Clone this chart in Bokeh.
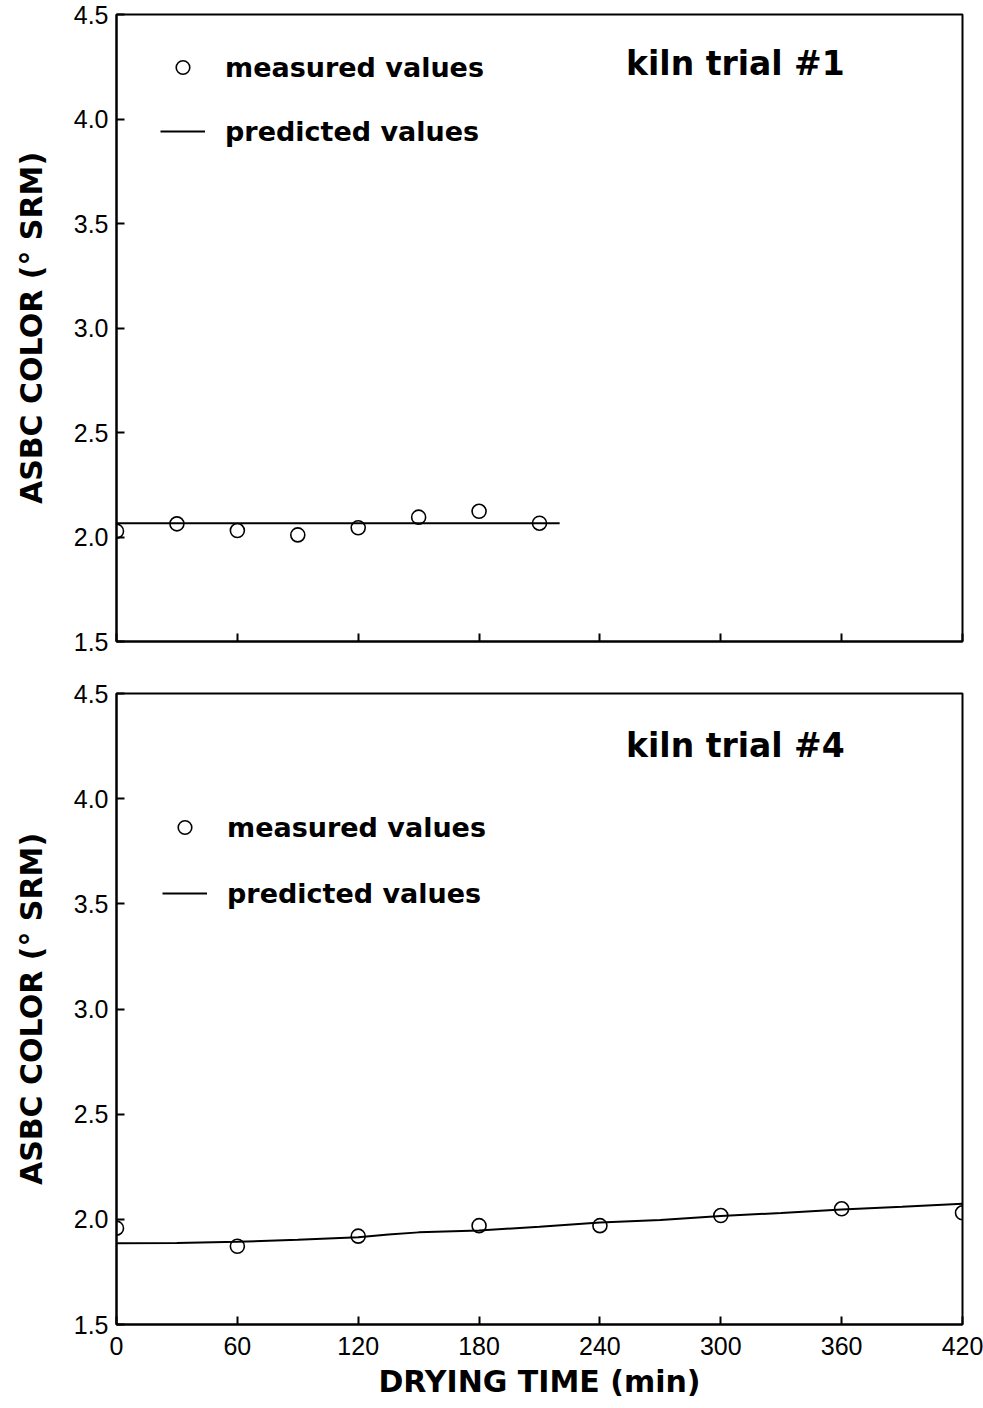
from bokeh.plotting import figure
from bokeh.layouts import column
from bokeh.models import (Range1d, Label, Legend, LegendItem, FixedTicker,
                          PrintfTickFormatter, CustomLabelingPolicy)
from bokeh.embed import file_html
from bokeh.resources import INLINE

# ---- data ----
trial1_time = [0, 30, 60, 90, 120, 150, 180, 210]
trial1_measured = [2.028, 2.063, 2.031, 2.010, 2.044, 2.095, 2.123, 2.066]
trial1_pred_time = [0, 220]
trial1_pred = [2.066, 2.066]

trial4_time = [0, 60, 120, 180, 240, 300, 360, 420]
trial4_measured = [1.958, 1.872, 1.920, 1.970, 1.970, 2.018, 2.050, 2.031]
trial4_pred_time = [0, 30, 60, 90, 120, 135, 150, 180, 210, 240, 270, 300, 330, 360, 390, 420]
trial4_pred = [1.886, 1.887, 1.893, 1.903, 1.915, 1.928, 1.938, 1.947, 1.965, 1.985,
               1.997, 2.016, 2.030, 2.047, 2.060, 2.074]

x_ticks = [0, 60, 120, 180, 240, 300, 360, 420]
y_ticks = [1.5, 2.0, 2.5, 3.0, 3.5, 4.0, 4.5]

TICK_FONT = "Liberation Sans"
BOLD_FONT = "DejaVu Sans"


def make_panel(height, b_top, b_bottom, show_xlabels, t, m, pt, pv, title, leg_loc, leg_spacing):
    p = figure(width=983, height=height, output_backend="svg", toolbar_location=None,
               x_range=Range1d(0, 420), y_range=Range1d(1.5, 4.5),
               min_border_left=116, min_border_right=21,
               min_border_top=b_top, min_border_bottom=b_bottom)
    p.grid.visible = False
    p.outline_line_color = "black"
    p.outline_line_width = 2
    p.background_fill_color = "white"
    p.border_fill_color = "white"

    for ax in (p.xaxis[0], p.yaxis[0]):
        ax.axis_line_width = 2
        ax.major_tick_line_width = 2
        ax.major_tick_in = 8
        ax.major_tick_out = 0
        ax.minor_tick_line_color = None
        ax.major_label_text_font = TICK_FONT
        ax.major_label_text_font_size = "25px"
        ax.major_label_text_color = "black"
        ax.axis_label_text_font = BOLD_FONT
        ax.axis_label_text_font_style = "bold"
        ax.axis_label_text_font_size = "30px"
        ax.axis_label_text_color = "black"

    p.xaxis.ticker = FixedTicker(ticks=x_ticks)
    p.yaxis.ticker = FixedTicker(ticks=y_ticks)
    p.yaxis.formatter = PrintfTickFormatter(format="%.1f")
    p.yaxis.major_label_standoff = 8
    p.yaxis.axis_label = "ASBC COLOR (° SRM)"
    p.yaxis.axis_label_standoff = 22
    if show_xlabels:
        p.xaxis.major_label_standoff = 12
        p.xaxis.axis_label = "DRYING TIME (min)"
        p.xaxis.axis_label_standoff = 6
    else:
        # tick marks only, no tick labels in the upper panel
        p.xaxis.major_label_policy = CustomLabelingPolicy(code="return new Set()")
        p.xaxis.major_label_standoff = 0

    line_r = p.line(pt, pv, line_color="black", line_width=2)
    pts_r = p.scatter(t, m, marker="circle", size=14, fill_alpha=0,
                      line_color="black", line_width=1.6)

    legend = Legend(items=[LegendItem(label="measured values", renderers=[pts_r]),
                           LegendItem(label="predicted values", renderers=[line_r])],
                    location=leg_loc, orientation="vertical",
                    padding=0, margin=0, spacing=leg_spacing,
                    glyph_width=45, glyph_height=34, label_height=34,
                    label_standoff=20, border_line_color=None, background_fill_alpha=0,
                    label_text_font=BOLD_FONT, label_text_font_style="bold",
                    label_text_font_size="27px", label_text_color="black")
    p.add_layout(legend, "center")

    p.add_layout(Label(x=253, y=title[1], text=title[0], text_font=BOLD_FONT,
                       text_font_style="bold", text_font_size="33px",
                       text_baseline="middle", text_color="black"))
    return p


p1 = make_panel(668, 14, 27, False, trial1_time, trial1_measured, trial1_pred_time, trial1_pred,
                ("kiln trial #1", 4.266), (44, 493), 30)
p2 = make_panel(740, 25, 84, True, trial4_time, trial4_measured, trial4_pred_time, trial4_pred,
                ("kiln trial #4", 4.253), (46, 414), 32)

layout = column(p1, p2, spacing=0)
open("out.html", "w").write(file_html(layout, INLINE))
